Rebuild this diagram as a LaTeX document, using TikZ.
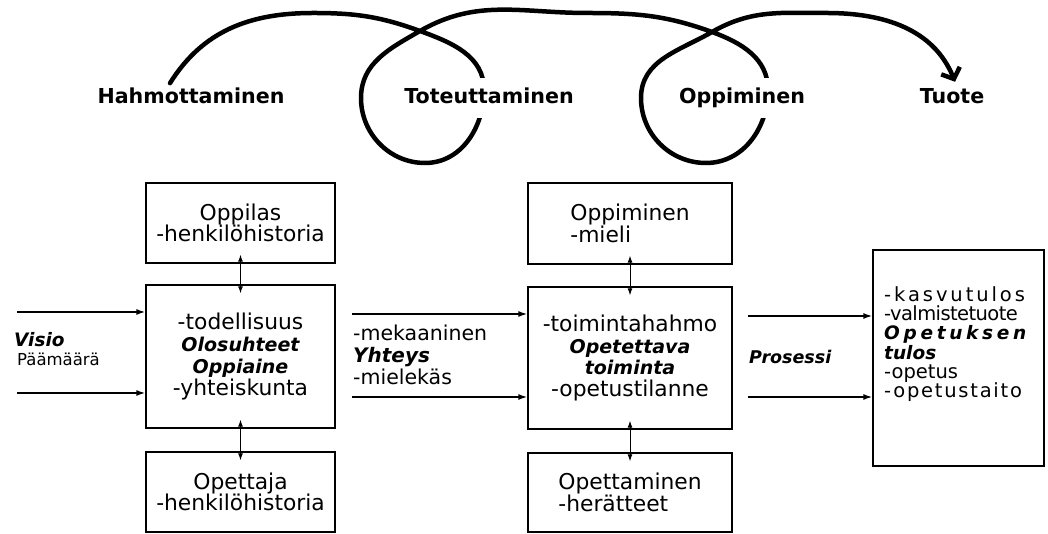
\documentclass[tikz,border=0pt]{standalone}
\usepackage{fontspec}
\setmainfont{DejaVu Sans}
\usetikzlibrary{arrows.meta}

% bold italic key words inside the boxes
\newcommand\hl[1]{{\fontsize{19}{21.7}\selectfont\bfseries\itshape #1}}
% tracked (letter-spaced) text
\newcommand\trk[2]{{\addfontfeatures{LetterSpace=#1}#2}}

\begin{document}
\begin{tikzpicture}[x=1pt,y=1pt,
  box/.style={draw, line width=1.3pt, inner sep=0pt, align=center,
    font=\fontsize{21.8}{21.7}\selectfont},
  flow/.style={line width=1.5pt, -{Latex[length=9pt,width=6pt]}},
  link/.style={line width=1pt,
    {Latex[length=7pt,width=5pt]}-{Latex[length=7pt,width=5pt]},
    shorten <=-9pt, shorten >=-9pt},
  phase/.style={anchor=base, inner sep=2pt,
    font=\fontsize{20.6}{22}\selectfont\bfseries},
  cut/.style={phase, fill=white, inner xsep=1pt, inner ysep=10pt,
    text height=16pt, text depth=4pt},
  tag/.style={anchor=west, align=left, inner sep=0pt},
  swirl/.style={line width=4.5pt, line cap=round}
]
\useasboundingbox (0,0) rectangle (1048,534);

% ---- left column
\node[box, minimum width=189pt, minimum height=80pt] (oppilas) at (240.5,311)
  {Oppilas\\-henkilöhistoria};
\node[box, minimum width=189pt, minimum height=143pt] (olo) at (240.5,177.5)
  {-todellisuus\\\hl{Olosuhteet}\\\hl{Oppiaine}\\-yhteiskunta};
\node[box, minimum width=189pt, minimum height=80pt] (opettaja) at (240.5,42)
  {Opettaja\\-henkilöhistoria};

% ---- middle column
\node[box, align=left, minimum width=204pt, minimum height=81pt] (oppim) at (630,310.5)
  {Oppiminen\\-mieli};
\node[box, minimum width=204pt, minimum height=142pt] (toim) at (630,176)
  {-toimintahahmo\\\hl{Opetettava}\\\hl{toiminta}\\-opetustilanne};
\node[box, align=left, minimum width=204pt, minimum height=79pt] (opetta) at (630,41.5)
  {Opettaminen\\-herätteet};

% ---- result box
\node[box, minimum width=171pt, minimum height=216pt] (tulos) at (958.5,176) {};
\node[tag, font=\fontsize{19.5}{19.3}\selectfont] (tulostext) at (884,190)
  {\trk{15}{-kasvutulos}\\
   \trk{-3}{-valmistetuote}\\
   {\fontsize{18.5}{19.3}\selectfont\bfseries\itshape\trk{20}{Opetuksen}}\\
   {\fontsize{18.5}{19.3}\selectfont\bfseries\itshape tulos}\\
   -opetus\\
   \trk{9}{-opetustaito}};

% ---- vertical links
\draw[link] (oppilas.south) -- (olo.north);
\draw[link] (olo.south) -- (opettaja.north);
\draw[link] (oppim.south) -- (toim.north);
\draw[link] (toim.south) -- (opetta.north);

% ---- horizontal flows
\coordinate (v1) at (17,222);
\coordinate (v2) at (17,141);
\coordinate (m1) at (352,220);
\coordinate (m2) at (352,137);
\coordinate (p1) at (748,218);
\coordinate (p2) at (748,137);
\draw[flow] (v1) -- (v1 -| olo.west);
\draw[flow] (v2) -- (v2 -| olo.west);
\draw[flow] (m1) -- (m1 -| toim.west);
\draw[flow] (m2) -- (m2 -| toim.west);
\draw[flow] (p1) -- (p1 -| tulos.west);
\draw[flow] (p2) -- (p2 -| tulos.west);

% ---- flow labels
\node[tag, font=\fontsize{17}{19}\selectfont] (visio) at (14,185)
  {{\fontsize{18.5}{19}\selectfont\bfseries\itshape Visio}\\
   \hspace*{3pt}{\fontsize{16.5}{19}\selectfont Päämäärä}};
\node[tag, font=\fontsize{20.5}{22}\selectfont] (yhteys) at (353,179)
  {-mekaaninen\\{\fontsize{20}{22}\selectfont\bfseries\itshape Yhteys}\\-mielekäs};
\node[tag, font=\fontsize{17.5}{19}\selectfont\bfseries\itshape] (prosessi) at (749,177)
  {Prosessi};

% ---- phases and the looping path
\node[phase] (hah) at (191,430) {Hahmottaminen};
\node[phase] (tuo) at (952,430) {Tuote};
\coordinate (s) at ([xshift=-21pt,yshift=3pt]hah.north);
\coordinate (e) at ([xshift=3pt,yshift=5pt]tuo.north);
\draw[swirl, -{Straight Barb[length=9pt,width=20pt]}]
  (s) to[out=58,in=180] (313,521) to[out=0,in=160] (420,503)
  to[out=-20,in=90] (484,444) to[out=-90,in=0] (425,371)
  to[out=180,in=-90] (361,436) to[out=90,in=210] (420,503)
  to[out=30,in=180] (587,521) to[out=0,in=160] (712,502)
  to[out=-20,in=90] (768,444) to[out=-90,in=0] (706,371)
  to[out=180,in=-90] (641,436) to[out=90,in=210] (712,502)
  to[out=30,in=180] (827,521) to[out=0,in=112] (e);
\node[cut] (tot) at (489,430) {Toteuttaminen};
\node[cut] (opp) at (742,430) {Oppiminen};
\end{tikzpicture}
\end{document}
